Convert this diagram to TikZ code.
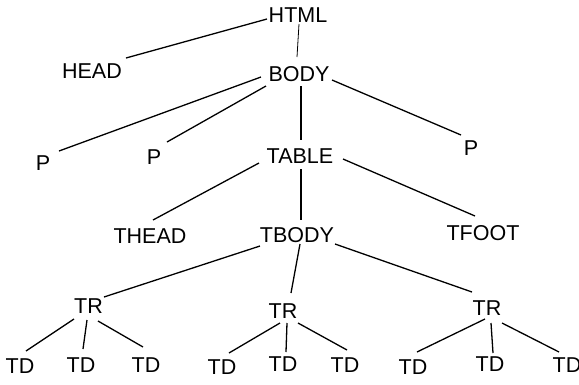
\documentclass[tikz,border=0pt]{standalone}
\usepackage{fontspec}
\setmainfont{Liberation Sans}
\usetikzlibrary{calc}
\begin{document}
\begin{tikzpicture}[x=1pt,y=-1pt,
  tag/.style={inner sep=0pt,font=\fontsize{21.5}{24}\selectfont},
  link/.style={line width=1.3pt,black}]
\useasboundingbox (0,0) rectangle (579,384);
\node[tag] (html) at (298,15) {HTML};
\node[tag] (head) at (92,71) {HEAD};
\node[tag] (body) at (299,74.5) {BODY};
\node[tag] (p1) at (43,163) {P};
\node[tag] (p2) at (154,157) {P};
\node[tag] (table) at (300,156.5) {TABLE};
\node[tag] (p3) at (471,148) {P};
\node[tag] (thead) at (150,236.5) {THEAD};
\node[tag] (tbody) at (297,235) {TBODY};
\node[tag] (tfoot) at (483,233) {TFOOT};
\node[tag] (tr1) at (88.5,306) {TR};
\node[tag] (tr2) at (283,311) {TR};
\node[tag] (tr3) at (487,308) {TR};
\node[tag] (td1) at (20,366.5) {TD};
\node[tag] (td2) at (81,365) {TD};
\node[tag] (td3) at (146,365) {TD};
\node[tag] (td4) at (222,367) {TD};
\node[tag] (td5) at (283,364.5) {TD};
\node[tag] (td6) at (345,365) {TD};
\node[tag] (td7) at (413,367) {TD};
\node[tag] (td8) at (490,364.5) {TD};
\node[tag] (td9) at (567,365) {TD};
\draw[link] ($(html)+(-31,4)$) -- ($(head)+(34,-13)$);
\draw[line width=0.8pt] ($(html)+(1,9)$) -- ($(body)+(-2,-17.5)$);
\draw[link] ($(body)+(-38,2.5)$) -- ($(p1)+(16,-12)$);
\draw[link] ($(body)+(-33,11.5)$) -- ($(p2)+(13,-15)$);
\draw[link] ($(body)+(2,11.5)$) -- ($(table)+(1,-16.5)$);
\draw[link] ($(body)+(33,5.5)$) -- ($(p3)+(-10,-13)$);
\draw[link] ($(table)+(-41,6.5)$) -- ($(thead)+(3,-16.5)$);
\draw[link] ($(table)+(1,12.5)$) -- ($(tbody)+(4,-15)$);
\draw[link] ($(table)+(43,2.5)$) -- ($(tfoot)+(-8,-17)$);
\draw[link] ($(tbody)+(-37,11)$) -- ($(tr1)+(15.5,-9)$);
\draw[link] ($(tbody)+(3,9)$) -- ($(tr2)+(8,-18)$);
\draw[link] ($(tbody)+(38,9)$) -- ($(tr3)+(-15,-16)$);
\draw[link] ($(tr1)+(-14.5,13)$) -- ($(td1)+(6,-15.5)$);
\draw[link] ($(tr1)+(-1.5,14)$) -- ($(td2)+(2,-16)$);
\draw[link] ($(tr1)+(9.5,15)$) -- ($(td3)+(-3,-18)$);
\draw[link] ($(tr2)+(-3,12)$) -- ($(td4)+(7,-14)$);
\draw[link] ($(tr2)+(4,12)$) -- ($(td5)+(3,-12.5)$);
\draw[link] ($(tr2)+(15,12)$) -- ($(td6)+(2,-15)$);
\draw[link] ($(tr3)+(-2,11)$) -- ($(td7)+(4,-15)$);
\draw[link] ($(tr3)+(4,15)$) -- ($(td8)+(3,-11.5)$);
\draw[link] ($(tr3)+(15,15)$) -- ($(td9)+(-8,-13)$);
\end{tikzpicture}
\end{document}
